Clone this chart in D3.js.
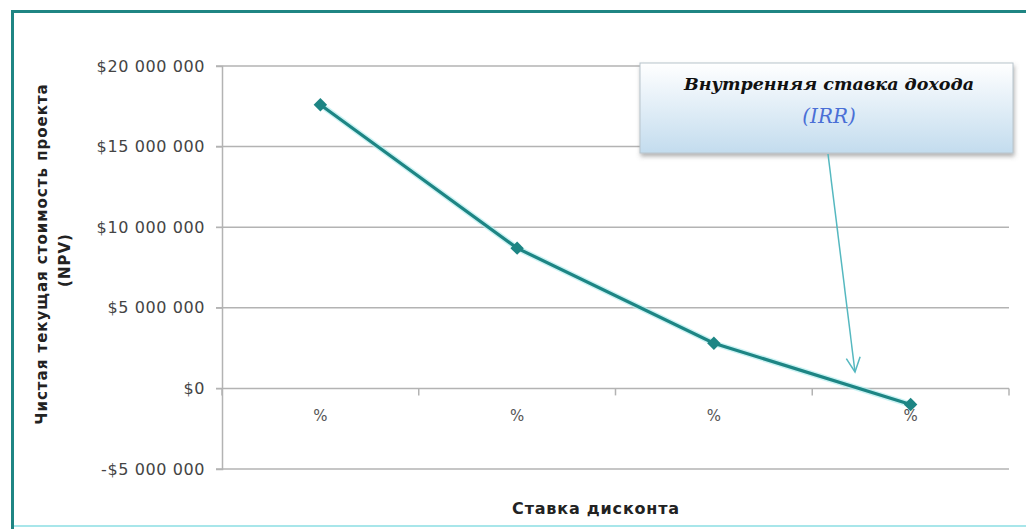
<!DOCTYPE html>
<html>
<head>
<meta charset="utf-8">
<script src="https://cdn.jsdelivr.net/npm/d3@7"></script>
<style>
  body { margin: 0; background: #fff; }
  svg { display: block; font-family: "DejaVu Sans", Verdana, sans-serif; }
</style>
</head>
<body>
<svg width="1026" height="529"></svg>
<script>
const categories = ["a", "b", "c", "d"];
const categoryLabels = ["%", "%", "%", "%"];
const npvValues = [17600000, 8700000, 2800000, -1000000];
const yTicks = [-5000000, 0, 5000000, 10000000, 15000000, 20000000];

const svg = d3.select("svg");

// frame
svg.append("rect").attr("x", 12).attr("y", 12).attr("width", 1020).attr("height", 514)
  .attr("fill", "none").attr("stroke", "#a8e6ea").attr("stroke-width", 2);
svg.append("line").attr("x1", 11).attr("x2", 1026).attr("y1", 11.5).attr("y2", 11.5)
  .attr("stroke", "#1f8583").attr("stroke-width", 3);
svg.append("line").attr("x1", 12.5).attr("x2", 12.5).attr("y1", 10).attr("y2", 529)
  .attr("stroke", "#1f8583").attr("stroke-width", 3);

const margin = { left: 222, right: 1009, top: 66, bottom: 469 };

const x = d3.scaleBand().domain(categories).range([margin.left, margin.right]);
const y = d3.scaleLinear().domain([-5000000, 20000000]).range([margin.bottom, margin.top]);

const fmt = (v) => (v < 0 ? "-$" : "$") + d3.format(",")(Math.abs(v)).replace(/,/g, " ");

// grid
svg.append("g").selectAll("line").data(yTicks).enter().append("line")
  .attr("x1", margin.left - 6).attr("x2", margin.right)
  .attr("y1", (d) => y(d)).attr("y2", (d) => y(d))
  .attr("stroke", "#b3b3b3").attr("stroke-width", 1.5);

// y axis
const yAxis = svg.append("g").attr("transform", `translate(${margin.left},0)`)
  .call(d3.axisLeft(y).tickValues(yTicks).tickFormat(fmt).tickSize(6).tickPadding(11));
yAxis.attr("font-family", null).attr("font-size", null);
yAxis.select(".domain").attr("stroke", "#b3b3b3").attr("stroke-width", 1.5);
yAxis.selectAll(".tick line").attr("stroke", "#b3b3b3");
yAxis.selectAll("text").attr("font-size", 16).attr("letter-spacing", 0.6).attr("fill", "#444");

// x axis at zero
const xAxis = svg.append("g").attr("transform", `translate(0,${y(0)})`)
  .call(d3.axisBottom(x).tickSize(0).tickFormat((d, i) => categoryLabels[i]).tickPadding(22));
xAxis.attr("font-family", null).attr("font-size", null);
xAxis.select(".domain").remove();
xAxis.selectAll("text").attr("font-size", 15).attr("fill", "#555");
svg.append("g").selectAll("line")
  .data(categories.map((c) => x(c) + x.bandwidth()).concat([x(categories[0])]))
  .enter().append("line")
  .attr("x1", (d) => d).attr("x2", (d) => d)
  .attr("y1", y(0)).attr("y2", y(0) + 7)
  .attr("stroke", "#b3b3b3").attr("stroke-width", 1.5);

// line
const line = d3.line()
  .x((d, i) => x(categories[i]) + x.bandwidth() / 2)
  .y((d) => y(d));
svg.append("path").datum(npvValues).attr("d", line)
  .attr("fill", "none").attr("stroke", "#b5eef0").attr("stroke-width", 6).attr("opacity", 0.7);
svg.append("path").datum(npvValues).attr("d", line)
  .attr("fill", "none").attr("stroke", "#1d8584").attr("stroke-width", 3.2);
svg.append("g").selectAll("path").data(npvValues).enter().append("path")
  .attr("d", d3.symbol().type(d3.symbolDiamond2).size(115))
  .attr("transform", (d, i) => `translate(${x(categories[i]) + x.bandwidth() / 2},${y(d)})`)
  .attr("fill", "#1d8584");

// titles
svg.append("text").attr("transform", "translate(47,254) rotate(-90)")
  .attr("text-anchor", "middle").attr("font-size", 15).attr("letter-spacing", 1).attr("font-weight", "bold").attr("fill", "#222")
  .text("Чистая текущая стоимость  проекта");
svg.append("text").attr("transform", "translate(70,260) rotate(-90)")
  .attr("text-anchor", "middle").attr("font-size", 15).attr("letter-spacing", 1).attr("font-weight", "bold").attr("fill", "#222")
  .text("(NPV)");
svg.append("text").attr("x", 596).attr("y", 514)
  .attr("text-anchor", "middle").attr("font-size", 16).attr("letter-spacing", 0.8).attr("font-weight", "bold").attr("fill", "#222")
  .text("Ставка дисконта");

// callout
const defs = svg.append("defs");
const grad = defs.append("linearGradient").attr("id", "cg").attr("x1", 0).attr("y1", 0).attr("x2", 0).attr("y2", 1);
grad.append("stop").attr("offset", "0%").attr("stop-color", "#ffffff");
grad.append("stop").attr("offset", "100%").attr("stop-color", "#c3dcee");
const shadow = defs.append("filter").attr("id", "sh").attr("x", -0.05).attr("y", -0.1).attr("width", 1.1).attr("height", 1.3);
shadow.append("feDropShadow").attr("dx", 1).attr("dy", 3).attr("stdDeviation", 2).attr("flood-color", "#666").attr("flood-opacity", 0.5);

svg.append("rect").attr("x", 640).attr("y", 63).attr("width", 373).attr("height", 90)
  .attr("fill", "url(#cg)").attr("stroke", "#b8c4cc").attr("stroke-width", 1).attr("filter", "url(#sh)");
svg.append("text").attr("x", 829).attr("y", 90)
  .attr("text-anchor", "middle").attr("font-family", "'DejaVu Serif', serif")
  .attr("font-style", "italic").attr("font-weight", "bold").attr("font-size", 17.5).attr("fill", "#111")
  .text("Внутренняя ставка дохода");
svg.append("text").attr("x", 829).attr("y", 123)
  .attr("text-anchor", "middle").attr("font-family", "'DejaVu Serif', serif")
  .attr("font-style", "italic").attr("font-size", 20).attr("fill", "#4a6fd6")
  .text("(IRR)");

// arrow
const ax0 = 828, ay0 = 154, ax1 = 855, ay1 = 372;
svg.append("line").attr("x1", ax0).attr("y1", ay0).attr("x2", ax1).attr("y2", ay1)
  .attr("stroke", "#55b8c0").attr("stroke-width", 1.5);
const ang = Math.atan2(ay1 - ay0, ax1 - ax0);
const ah = 16, spread = 0.45;
svg.append("path")
  .attr("d", `M${ax1 - ah * Math.cos(ang - spread)},${ay1 - ah * Math.sin(ang - spread)}L${ax1},${ay1}L${ax1 - ah * Math.cos(ang + spread)},${ay1 - ah * Math.sin(ang + spread)}`)
  .attr("fill", "none").attr("stroke", "#55b8c0").attr("stroke-width", 1.5);
</script>
</body>
</html>
